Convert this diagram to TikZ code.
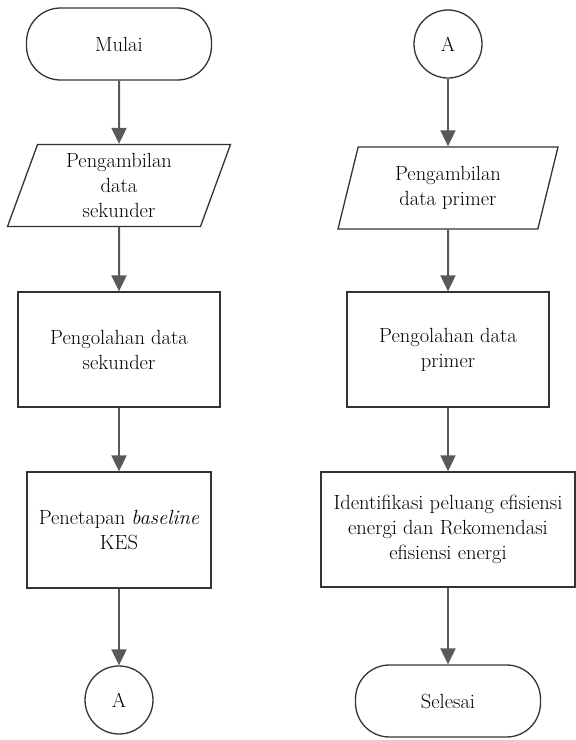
\documentclass[tikz,border=0pt]{standalone}
\usepackage{xcolor}
\usepackage{tikz}
\usetikzlibrary{arrows.meta,positioning,shapes.geometric}

\begin{document}
\begin{tikzpicture}[
			x=1pt, y=-1pt,
			font=\fontsize{20.5}{25}\selectfont,
			>={Triangle[width=15pt,length=16pt]},
			term/.style={draw=black!80, line width=1.3pt, rounded corners=34pt, minimum width=185pt, minimum height=72pt, inner sep=0pt},
			io/.style={draw=black!80, line width=1.3pt, trapezium, trapezium left angle=65, trapezium right angle=115, trapezium stretches body, minimum height=82pt, align=center, inner sep=0pt},
			proc/.style={draw=black!80, line width=1.3pt, align=center, minimum height=115pt, inner sep=0pt},
			konektor/.style={draw=black!80, line width=1.3pt, circle, minimum size=68pt, inner sep=0pt},
			flow/.style={->, line width=2pt, draw=black!65}
			]
			\useasboundingbox (0,0) rectangle (576,740);
			% kolom kiri
			\node[term] (mulai) at (119,44) {Mulai};
			\node[io, minimum width=223pt] (ambilsek) at (119,185.5) {Pengambilan\\data\\sekunder};
			\node[proc, minimum width=202pt] (olahsek) at (119,349.5) {Pengolahan data\\sekunder};
			\node[proc, minimum width=184pt, minimum height=116pt] (baseline) at (119,530) {Penetapan \textit{baseline}\\KES};
			\node[konektor] (konA) at (119,700) {A};
			
			% kolom kanan
			\node[konektor] (konB) at (448,44) {A};
			\node[io, minimum width=220pt] (ambilprim) at (448,188) {Pengambilan\\data primer};
			\node[proc, minimum width=202pt] (olahprim) at (448,349.5) {Pengolahan data\\primer};
			\node[proc, minimum width=254pt] (identifikasi) at (448,529.5) {Identifikasi peluang efisiensi\\energi dan Rekomendasi\\efisiensi energi};
			\node[term] (selesai) at (448,701) {Selesai};
			
			\draw[flow] (mulai) -- (ambilsek);
			\draw[flow] (ambilsek) -- (olahsek);
			\draw[flow] (olahsek) -- (baseline);
			\draw[flow] (baseline) -- (konA);
			
			\draw[flow] (konB) -- (ambilprim);
			\draw[flow] (ambilprim) -- (olahprim);
			\draw[flow] (olahprim) -- (identifikasi);
			\draw[flow] (identifikasi) -- (selesai);
		\end{tikzpicture}
\end{document}
